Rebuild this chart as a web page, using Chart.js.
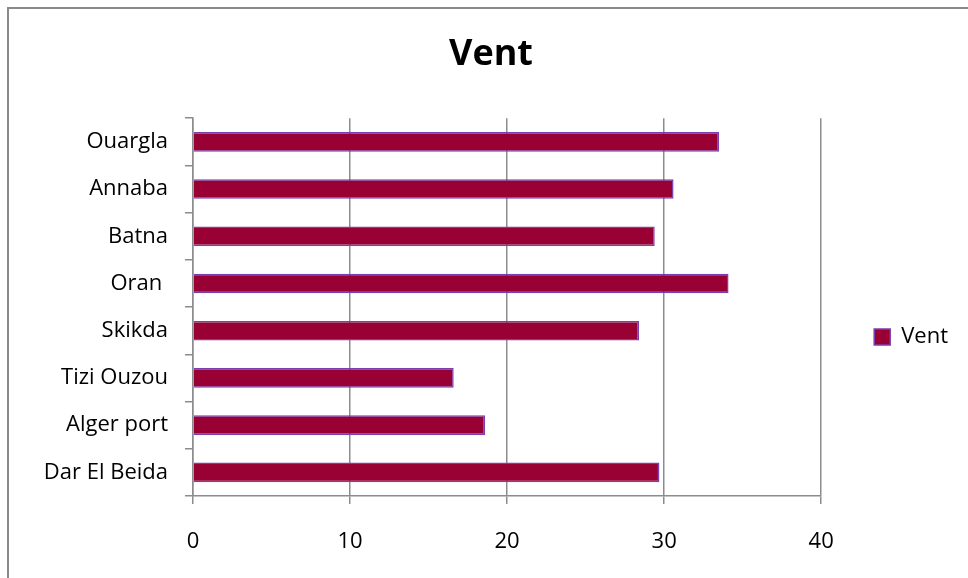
<!DOCTYPE html>
<html>
<head>
<meta charset="utf-8">
<script src="https://cdn.jsdelivr.net/npm/chart.js@4/dist/chart.umd.min.js"></script>
<style>
  html, body { margin: 0; padding: 0; background: #fff; overflow: hidden; }
  canvas { display: block; }
</style>
</head>
<body>
<canvas id="c" width="968" height="578"></canvas>
<script>
// Stations (bottom to top) and wind values
const stations = ['Dar El Beida', 'Alger port', 'Tizi Ouzou', 'Skikda', 'Oran ', 'Batna', 'Annaba', 'Ouargla'];
const vent = [29.7, 18.6, 16.6, 28.4, 34.1, 29.4, 30.6, 33.5];
const seriesName = 'Vent';
const xMin = 0, xMax = 40, xStep = 10;

const FONT = 'Open Sans';
const GRID = '#8c8c8c';

// Chart frame: only its top and left edges fall inside the canvas
const chartFrame = {
  id: 'chartFrame',
  beforeDraw(chart) {
    const ctx = chart.ctx;
    ctx.save();
    ctx.strokeStyle = '#8a8a8a';
    ctx.lineWidth = 2;
    ctx.beginPath();
    ctx.moveTo(8, chart.height);
    ctx.lineTo(8, 8);
    ctx.lineTo(chart.width, 8);
    ctx.stroke();
    ctx.restore();
  }
};

// Moves the legend down so it sits a little below the middle
const legendShift = {
  id: 'legendShift',
  afterLayout(chart) {
    const lg = chart.legend;
    if (lg) { lg.top += 48; lg.bottom += 48; }
  }
};

new Chart(document.getElementById('c'), {
  type: 'bar',
  data: {
    labels: stations,
    datasets: [{
      label: seriesName,
      data: vent,
      backgroundColor: '#990033',
      borderColor: '#7a3fb0',
      borderWidth: 1.5,
      barPercentage: 0.52,
      categoryPercentage: 0.8
    }]
  },
  options: {
    indexAxis: 'y',
    responsive: false,
    animation: false,
    devicePixelRatio: 1,
    layout: { padding: { left: 24, right: 10, top: 0, bottom: 0 } },
    plugins: {
      title: {
        display: true,
        text: seriesName,
        color: '#000',
        font: { family: FONT, size: 36, weight: 'bold' },
        padding: { top: 33, bottom: 42 }
      },
      legend: {
        display: true,
        position: 'right',
        labels: {
          color: '#000',
          font: { family: FONT, size: 22 },
          boxWidth: 16,
          boxHeight: 16,
          padding: 53
        }
      },
      tooltip: { enabled: false }
    },
    scales: {
      x: {
        type: 'linear',
        min: xMin,
        max: xMax,
        ticks: { stepSize: xStep, padding: 25, color: '#000', font: { family: FONT, size: 22 } },
        grid: { color: GRID, lineWidth: 1.5, tickLength: 8, drawOnChartArea: true, drawTicks: true },
        border: { color: GRID, width: 1.5 },
        afterFit(scale) { scale.height = 82; }
      },
      y: {
        reverse: true,
        ticks: { padding: 17, color: '#000', font: { family: FONT, size: 22 } },
        grid: { color: GRID, lineWidth: 1.5, tickLength: 8, drawOnChartArea: false, drawTicks: true },
        border: { color: GRID, width: 1.5 },
        afterFit(scale) { scale.width = 169; }
      }
    }
  },
  plugins: [chartFrame, legendShift]
});
</script>
</body>
</html>
